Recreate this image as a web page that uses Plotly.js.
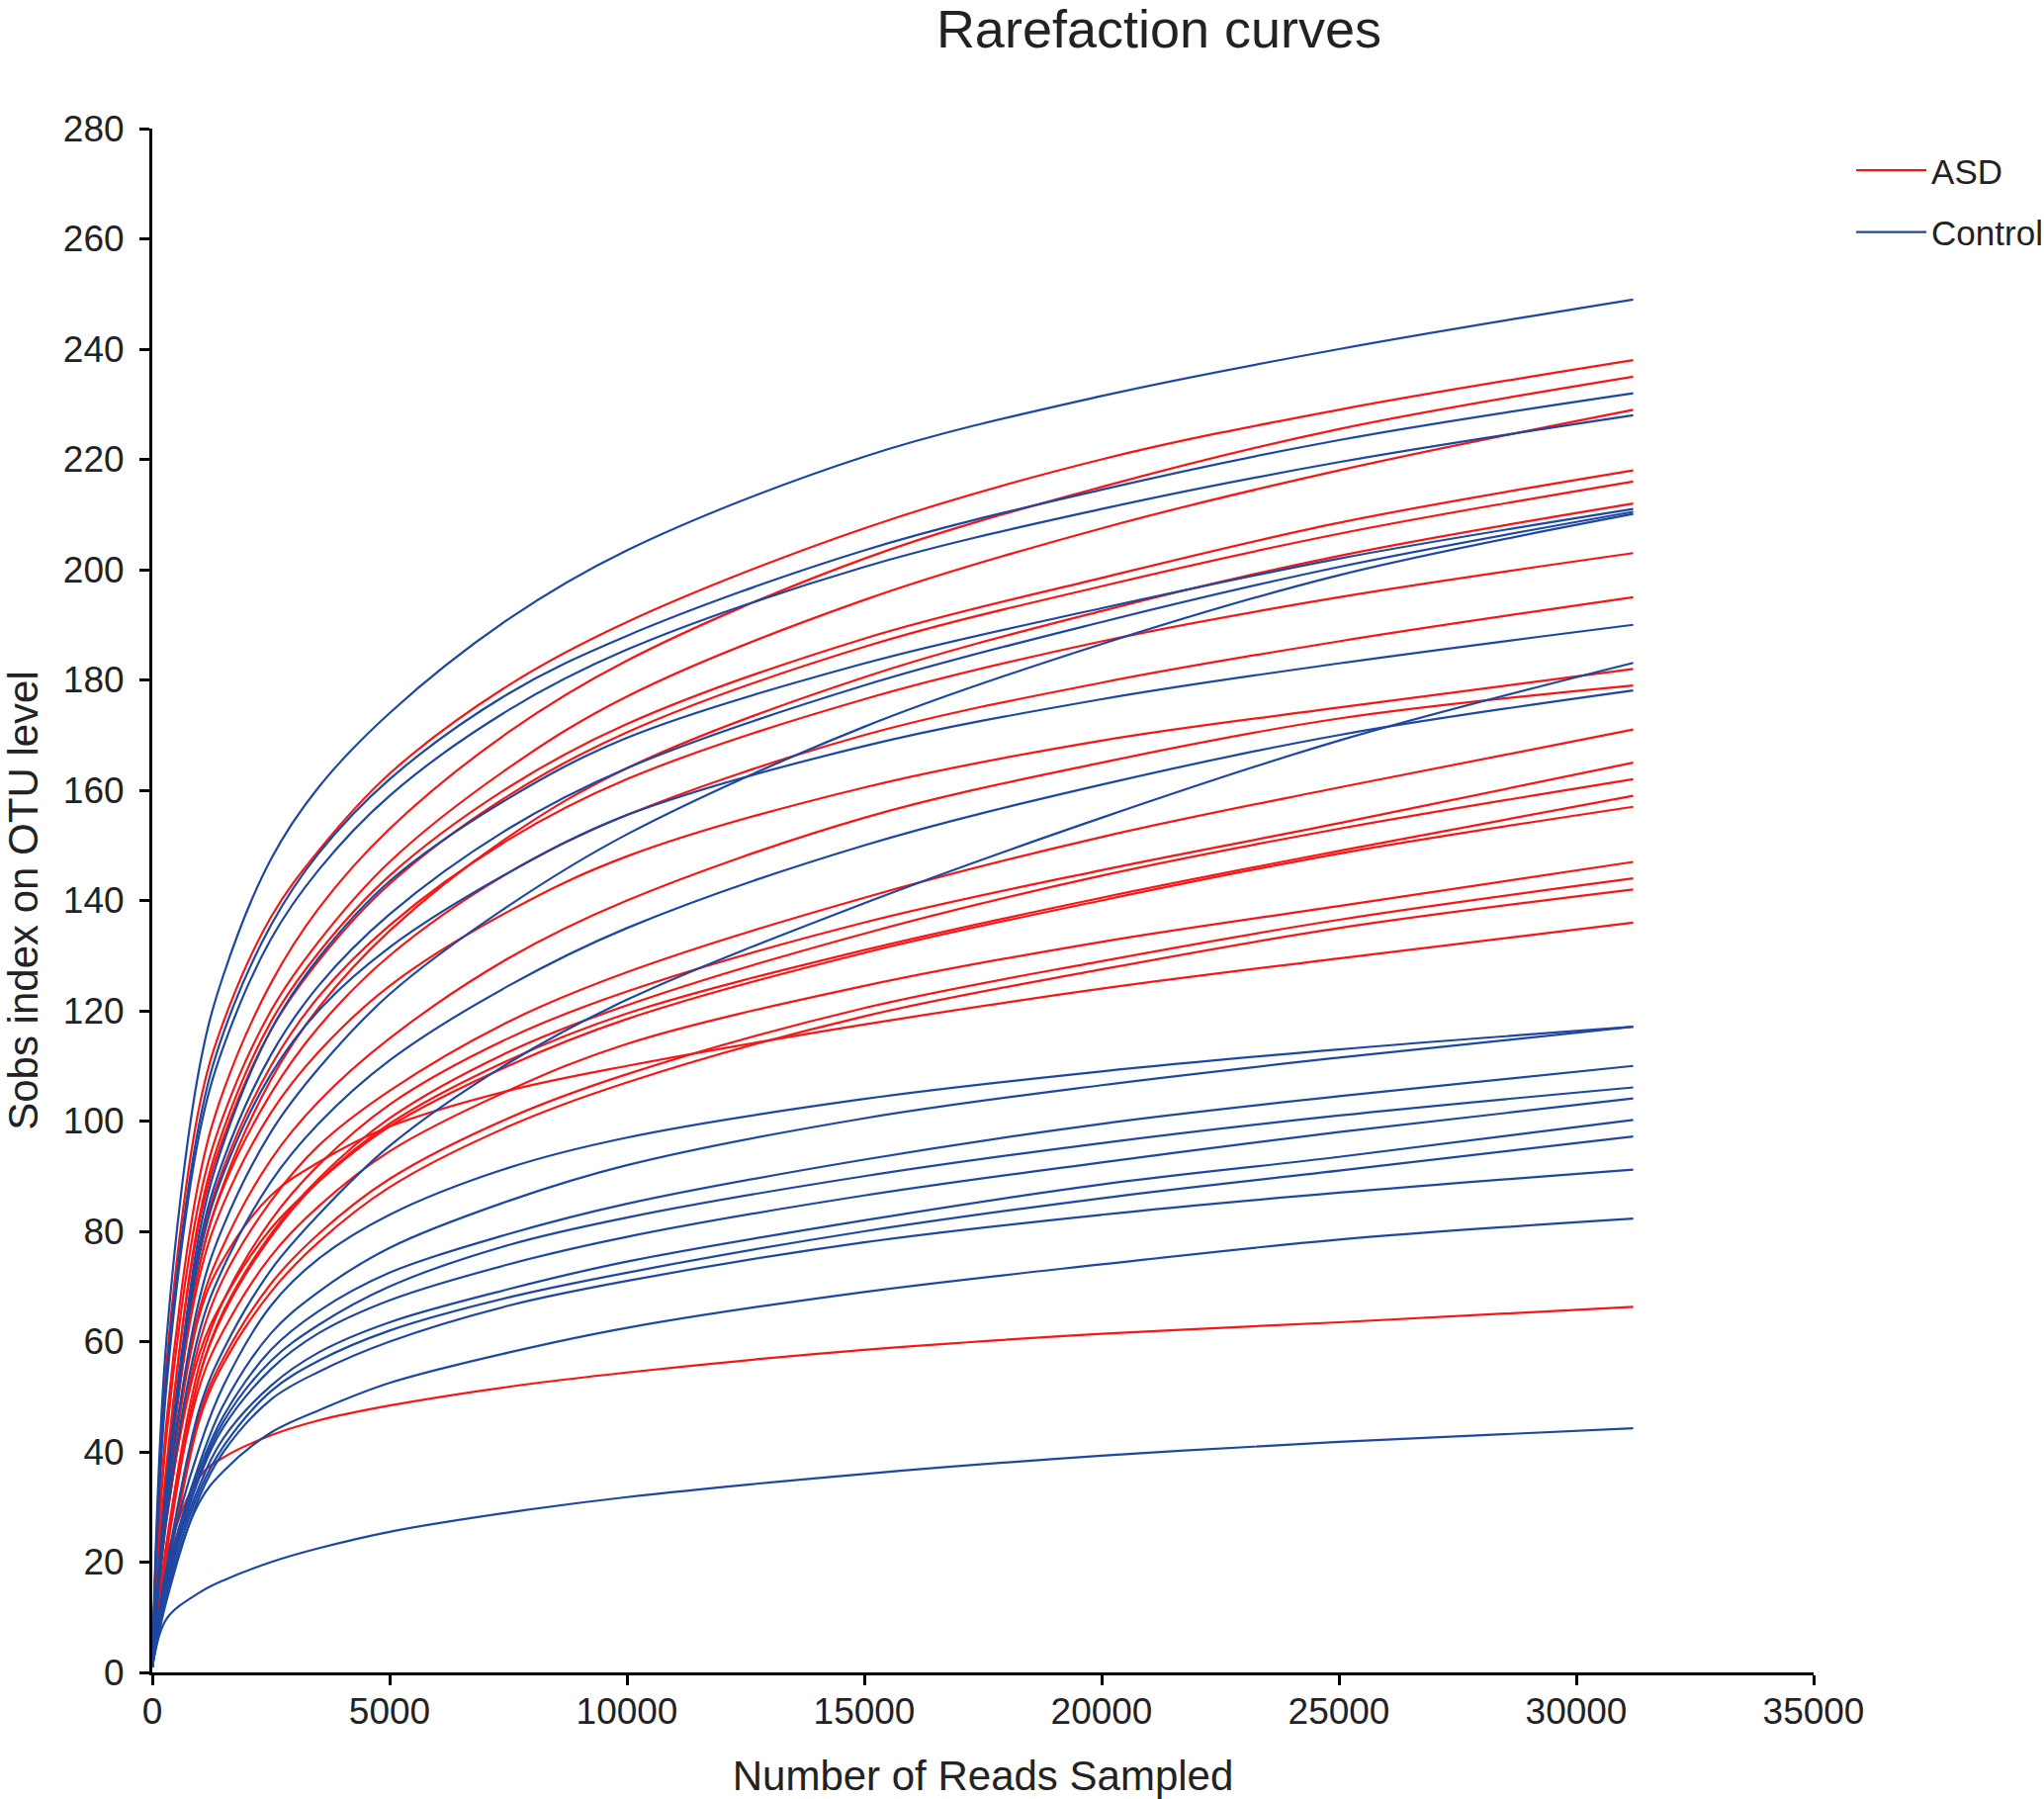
<!DOCTYPE html>
<html>
<head>
<meta charset="utf-8">
<script src="https://cdn.plot.ly/plotly-3.0.1.min.js"></script>
<style>
  html, body { margin: 0; padding: 0; background: #fff; }
  #chart { width: 2067px; height: 1819px; }
</style>
</head>
<body>
<div id="chart"></div>
<script>
var reads = [0, 300, 1000, 1500, 2500, 3500, 5000, 7500, 10000, 15000, 20000, 25000, 31200];

// ASD samples
var asd238 = [1, 56, 103, 118, 137, 149, 163, 179, 190.5, 207.5, 220, 229, 238];
var asd235 = [1, 45.5, 90, 105.5, 125, 138.5, 153, 170.5, 183.5, 202, 215, 225.5, 235];
var asd229 = [1, 43, 86, 101, 120, 132.5, 147, 164, 177, 194.5, 207.5, 218, 229];
var asd218 = [1, 37, 83, 98.5, 118, 130.5, 144.5, 160.5, 172, 187.5, 198.5, 208.5, 218];
var asd216 = [1, 37.5, 82, 97, 116.5, 129, 143, 159, 170.5, 186, 197, 206.5, 216];
var asd212 = [1, 32, 74, 88.5, 107.5, 120.5, 134.5, 151.5, 164, 180.5, 192.5, 202.5, 212];
var asd203 = [1, 34, 77, 91.5, 110, 122.5, 135.5, 151, 162, 176.5, 187, 195, 203];
var asd195 = [1, 33, 74, 88, 105, 117, 130, 145, 155.5, 170, 179.5, 187, 195];
var asd182 = [1, 33.5, 72, 85, 101.5, 112.5, 124.5, 138, 148, 160.5, 169, 175, 182];
var asd179 = [1, 31, 66, 77.5, 93, 103.5, 115, 129.5, 140, 155, 165, 173, 179];
var asd171 = [1, 27.5, 60, 71.5, 85.5, 95.5, 105.5, 118, 127, 140.5, 151.5, 160.5, 171];
var asd165 = [1, 23.5, 56, 67.5, 82, 92, 103, 115, 123.5, 136, 145.5, 154, 165];
var asd162 = [1, 21.5, 54, 65.5, 79.5, 89.5, 100.5, 112.5, 121, 134, 144.5, 153, 162];
var asd159 = [1, 22.5, 54, 65, 79, 89, 99.5, 111, 119.5, 131, 140.5, 149, 159];
var asd157 = [1, 28, 58, 67.5, 80.5, 89, 99, 110, 118.5, 130.5, 140, 148.5, 157];
var asd147 = [1, 23, 52, 62, 75.5, 84.5, 94.5, 105.5, 114, 124.5, 132.5, 139, 147];
var asd144 = [1, 18, 47, 57, 70.5, 79.5, 89.5, 100.5, 108.5, 120.5, 129, 136.5, 144];
var asd142 = [1, 17, 46, 56, 69, 78, 88, 99, 107, 119, 127.5, 135, 142];
var asd136 = [1, 29, 65, 75, 86.5, 92.5, 99, 105.5, 110, 117.5, 124, 129.5, 136];
var asd66 = [1, 21, 35.5, 39, 43, 45.7, 48.4, 51.8, 54.4, 58.5, 61.4, 63.5, 66.3];

// Control samples
var ctl249 = [1, 60.5, 110, 126.5, 147.5, 160.5, 174, 191, 203.5, 220.5, 231.5, 240, 249];
var ctl232 = [1, 54, 100, 116, 135.5, 148.5, 162, 177.5, 188, 203.5, 214.5, 223.5, 232];
var ctl228 = [1, 52, 98, 113.5, 133, 145.5, 159, 174.5, 185.5, 200.5, 211, 219.5, 228];
var ctl211 = [1, 33, 80, 96, 116.5, 129.5, 143.5, 158.5, 169.5, 183, 193, 202, 211];
var ctl210a = [1, 34.5, 78, 93, 112, 124.5, 137.5, 153, 164, 179, 190.5, 200.5, 210.5];
var ctl210b = [1, 30.5, 68, 81, 98, 109.5, 123, 139, 152, 171.5, 186.5, 199, 210.1];
var ctl190 = [1, 32.5, 76, 90.5, 108.5, 120, 131.5, 145, 155.5, 168, 176.5, 183, 190];
var ctl183 = [1, 19, 48, 58.5, 73, 83, 95.5, 110.5, 122, 139.5, 155, 169, 183.1];
var ctl178 = [1, 28, 62, 73.5, 89, 99.5, 111, 124.5, 135, 150, 161, 170, 178.1];
var ctl117a = [1, 19, 41, 52, 66.5, 75, 83, 91.5, 97, 104, 109, 113, 117.1];
var ctl117b = [1, 17.5, 38, 48.5, 61.5, 69, 77, 85.5, 92, 100.5, 106.5, 111.5, 117.1];
var ctl110 = [1, 17.5, 37, 46.5, 58.5, 65.5, 72.5, 79.5, 85, 93, 99.5, 104.5, 110];
var ctl106 = [1, 16.5, 36, 45.5, 56.5, 63, 70, 77.5, 82.5, 90, 96, 101, 106.1];
var ctl104 = [1, 16, 35.5, 44.5, 55, 61.5, 67.5, 74, 79, 86.5, 92.5, 98, 104.1];
var ctl100 = [1, 16, 34, 42.5, 52, 58, 63.5, 69.5, 74.5, 82, 88.5, 93.5, 100.2];
var ctl97 = [1, 15, 33, 41, 51, 56.5, 62, 68, 72.5, 80, 86, 91, 97.2];
var ctl91 = [1, 13, 32, 40, 49.5, 54.5, 60, 66.5, 71, 78, 83, 87, 91.2];
var ctl82 = [1, 14, 31, 36.5, 43.5, 47.5, 52.5, 58, 62.5, 69, 74, 78.5, 82.3];
var ctl44 = [1, 9.7, 14.5, 16.7, 20, 22.5, 25.5, 29, 31.8, 36, 39.3, 41.8, 44.3];

var asdCurves = [asd238, asd235, asd229, asd218, asd216, asd212, asd203, asd195, asd182, asd179,
                 asd171, asd165, asd162, asd159, asd157, asd147, asd144, asd142, asd136, asd66];
var ctlCurves = [ctl249, ctl232, ctl228, ctl211, ctl210a, ctl210b, ctl190, ctl183, ctl178,
                 ctl117a, ctl117b, ctl110, ctl106, ctl104, ctl100, ctl97, ctl91, ctl82, ctl44];

var red = '#f51616';
var blue = '#1e48a0';
var font = '"Liberation Sans", Arial, sans-serif';

function curve(ys, name, color, first) {
    return {
        x: reads,
        y: ys,
        type: 'scatter',
        mode: 'lines',
        name: name,
        legendgroup: name,
        showlegend: first,
        line: { color: color, width: 2.2, shape: 'spline', smoothing: 1 },
        hoverinfo: 'skip'
    };
}

var data = [];
asdCurves.forEach(function (ys, i) { data.push(curve(ys, 'ASD', red, i === 0)); });
ctlCurves.forEach(function (ys, i) { data.push(curve(ys, 'Control', blue, i === 0)); });

var axisStyle = {
    showline: true,
    linecolor: '#000',
    linewidth: 3,
    ticks: 'outside',
    ticklen: 10,
    tickwidth: 3,
    tickcolor: '#000',
    showgrid: false,
    zeroline: false,
    tickformat: 'd',
    tickfont: { family: font, size: 37, color: '#222' }
};

var layout = {
    width: 2067,
    height: 1819,
    margin: { l: 154, r: 233, t: 130, b: 128 },
    paper_bgcolor: '#fff',
    plot_bgcolor: '#fff',
    font: { family: font, color: '#222' },
    title: {
        text: 'Rarefaction curves',
        font: { family: font, size: 54, color: '#222' },
        x: 0.567, xref: 'container', xanchor: 'center',
        y: 0.984, yref: 'container', yanchor: 'middle'
    },
    xaxis: Object.assign({}, axisStyle, {
        range: [0, 35000],
        tick0: 0, dtick: 5000,
        ticklabelstandoff: -5,
        title: { text: 'Number of Reads Sampled', font: { family: font, size: 42, color: '#222' }, standoff: 35 },
        automargin: false
    }),
    yaxis: Object.assign({}, axisStyle, {
        range: [0, 280],
        tick0: 0, dtick: 20,
        ticklabelstandoff: 8,
        title: { text: 'Sobs index on OTU level', font: { family: font, size: 42, color: '#222' }, standoff: 25 },
        automargin: false
    }),
    legend: {
        xref: 'container', yref: 'container',
        x: 0.9057, xanchor: 'left',
        y: 0.9214, yanchor: 'top',
        font: { family: font, size: 35, color: '#222' },
        traceorder: 'grouped',
        tracegroupgap: 14,
        itemwidth: 71,
        bgcolor: 'rgba(0,0,0,0)'
    },
    showlegend: true
};

Plotly.newPlot('chart', data, layout, { displayModeBar: false, displaylogo: false });
</script>
</body>
</html>
